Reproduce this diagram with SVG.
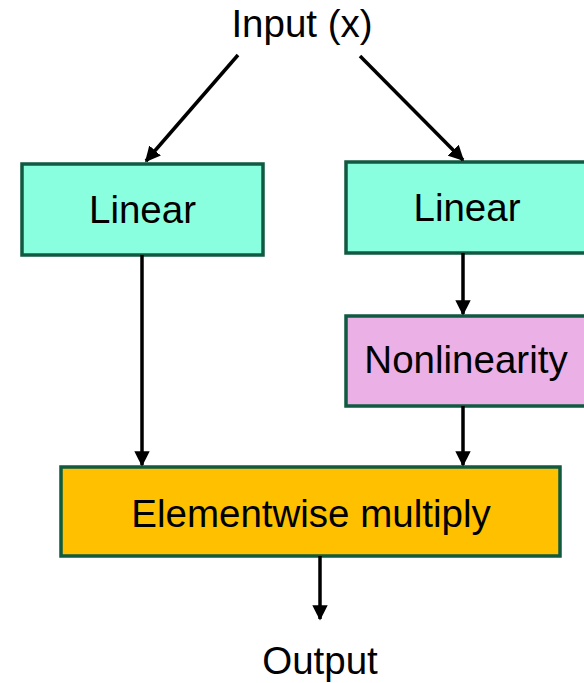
<svg xmlns="http://www.w3.org/2000/svg" width="584" height="683" viewBox="0 0 584 683">
  <style>
    .box { stroke: #0F5A40; stroke-width: 3.5; }
    .lin { fill: #8AFFDF; }
    .nl { fill: #EBB0E6; }
    .mul { fill: #FFC000; }
    .lbl { font-family: "Liberation Sans", Arial, sans-serif; font-size: 38.5px; fill: #000; text-anchor: middle; }
    .edge { stroke: #000; stroke-width: 3.5; fill: none; marker-end: url(#arrow); }
  </style>
  <defs>
    <marker id="arrow" viewBox="0 0 10 10" refX="9" refY="5" markerWidth="4.4" markerHeight="4.4" markerUnits="strokeWidth" orient="auto">
      <path d="M0,0 L10,5 L0,10 z" fill="#000"/>
    </marker>
  </defs>
  <rect width="584" height="683" fill="#fff"/>

  <g id="input">
    <text class="lbl" x="302" y="37">Input (x)</text>
  </g>

  <g id="linear-left">
    <rect class="box lin" x="22" y="164" width="241" height="91"/>
    <text class="lbl" x="142.5" y="223">Linear</text>
  </g>

  <g id="linear-right">
    <rect class="box lin" x="346" y="162" width="244" height="91"/>
    <text class="lbl" x="467" y="221">Linear</text>
  </g>

  <g id="nonlinearity">
    <rect class="box nl" x="346" y="316" width="244" height="90"/>
    <text class="lbl" x="466" y="373">Nonlinearity</text>
  </g>

  <g id="multiply">
    <rect class="box mul" x="61" y="467" width="499" height="89"/>
    <text class="lbl" x="311" y="527">Elementwise multiply</text>
  </g>

  <g id="output">
    <text class="lbl" x="320" y="674">Output</text>
  </g>

  <g id="connectors">
    <line class="edge" x1="238" y1="55" x2="146" y2="161"/>
    <line class="edge" x1="360" y1="56" x2="463" y2="160"/>
    <line class="edge" x1="463" y1="253" x2="463" y2="314"/>
    <line class="edge" x1="463" y1="406" x2="463" y2="465"/>
    <line class="edge" x1="142" y1="255" x2="142" y2="465"/>
    <line class="edge" x1="320" y1="556" x2="320" y2="619"/>
  </g>
</svg>
